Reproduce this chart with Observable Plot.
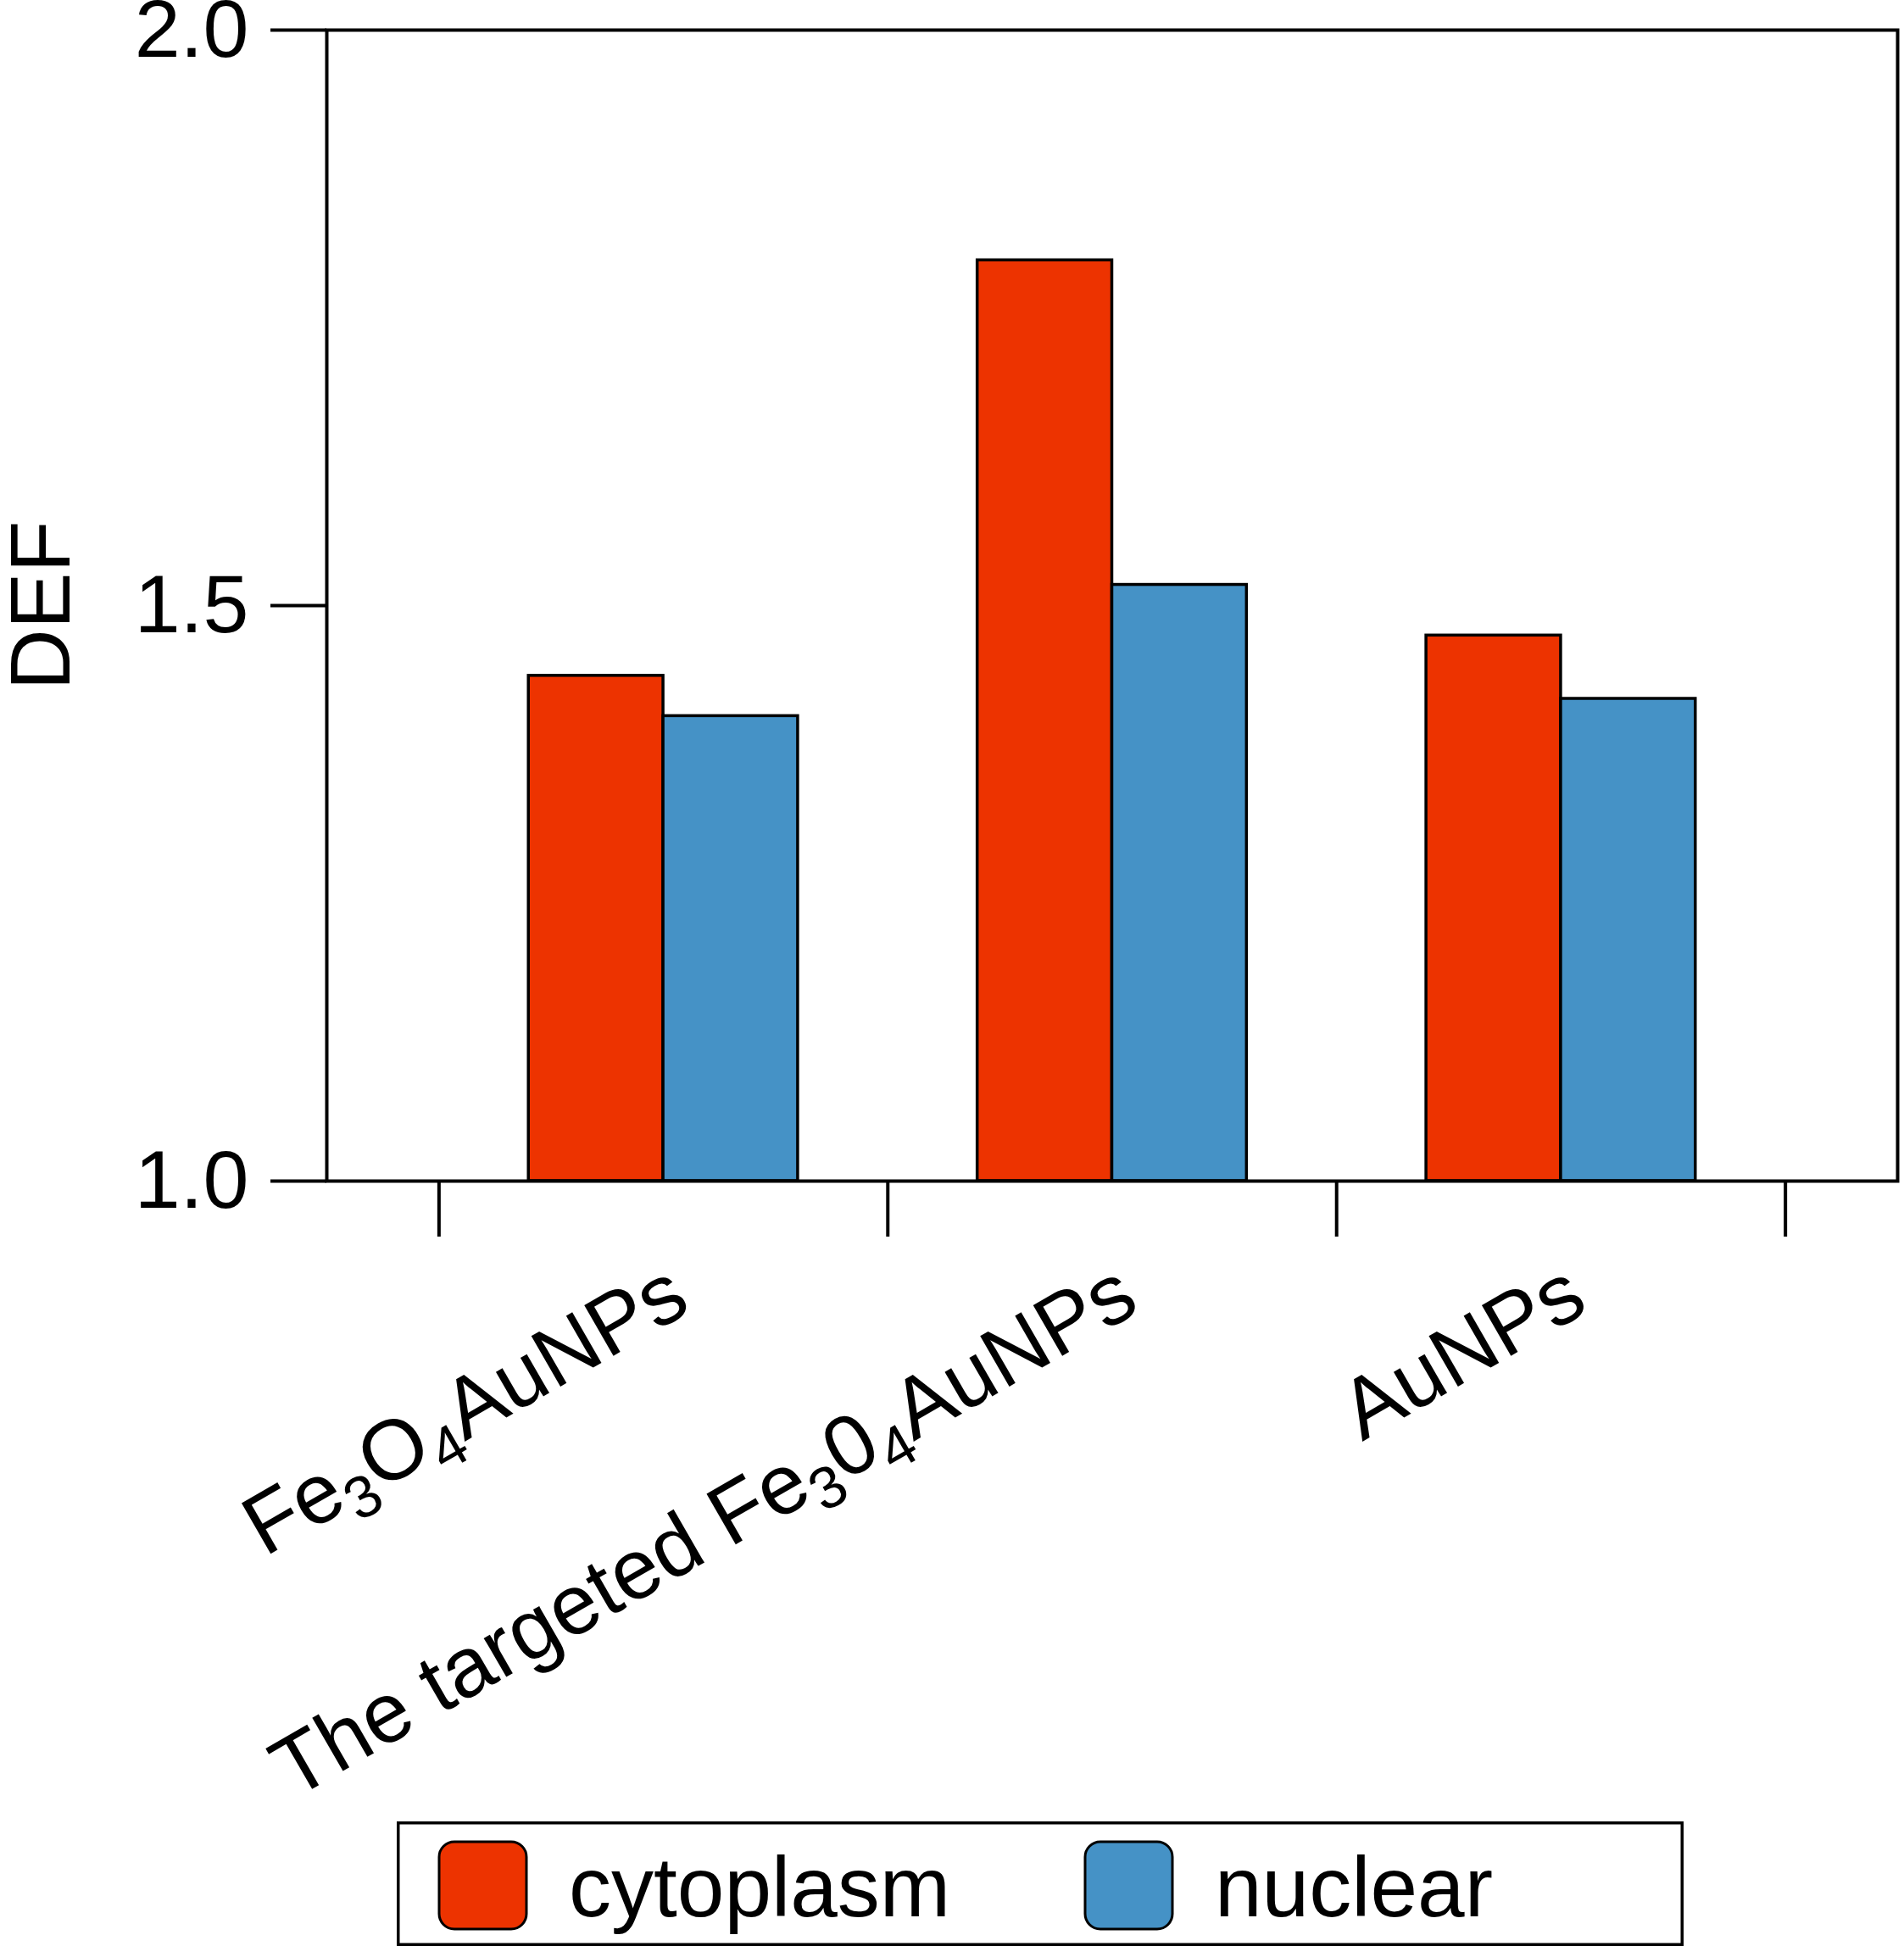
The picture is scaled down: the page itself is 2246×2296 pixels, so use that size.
<!DOCTYPE html>
<html><head><meta charset="utf-8">
<script src="https://cdn.jsdelivr.net/npm/d3@7"></script>
<script src="https://cdn.jsdelivr.net/npm/@observablehq/plot@0.6"></script>
<style>
body{margin:0;background:#fff;}
#wrap{position:relative;width:2246px;height:2296px;overflow:hidden;background:#fff;font-family:"Liberation Sans",Arial,Helvetica,sans-serif;}
#wrap svg{display:block;}
#legend{position:absolute;left:468px;top:2149px;}
</style></head>
<body><div id="wrap"></div>
<script>
// ---- data ----
const groups = ["Fe₃O₄AuNPs", "The targeted Fe₃0₄AuNPs", "AuNPs"];
const seriesNames = ["cytoplasm", "nuclear"];
const cytoplasm = [1.439, 1.80, 1.474];
const nuclear = [1.404, 1.518, 1.419];
const yTicks = [1.0, 1.5, 2.0];
const yLabel = "DEF";
const colors = ["#ED3300", "#4592C6"];

// ---- table ----
const rows = [];
groups.forEach((g, i) => {
  rows.push({group: g, gi: i, series: seriesNames[0], si: 0, value: cytoplasm[i]});
  rows.push({group: g, gi: i, series: seriesNames[1], si: 1, value: nuclear[i]});
});
const barW = 0.3;
const center = i => i + 0.75;
const boundaries = d3.range(groups.length + 1).map(k => k + 0.25);
const font = '"Liberation Sans", Arial, Helvetica, sans-serif';

const hasAxisMarks = typeof Plot.axisX === "function";
const marks = [
  Plot.rect(rows, {
    x1: d => center(d.gi) + (d.si - 1) * barW,
    x2: d => center(d.gi) + d.si * barW,
    y1: () => yTicks[0],
    y2: "value",
    fill: "series",
    stroke: "black",
    strokeWidth: 3.5
  }),
  Plot.frame({stroke: "black", strokeWidth: 4}),
  Plot.text(groups, {
    x: (d, i) => center(i),
    frameAnchor: "bottom",
    text: d => d,
    rotate: -30,
    textAnchor: "end",
    lineAnchor: "bottom",
    dx: 35,
    dy: 152,
    fontSize: 100,
    fill: "black"
  }),
  Plot.text([yLabel], {
    frameAnchor: "left",
    text: d => d,
    rotate: -90,
    textAnchor: "middle",
    lineAnchor: "middle",
    dx: -336,
    fontSize: 100,
    fill: "black"
  })
];
if (hasAxisMarks) {
  marks.push(
    Plot.axisY({ticks: yTicks, tickSize: 66, tickPadding: 26, tickFormat: d3.format(".1f"), strokeWidth: 4, fontSize: 97, label: null}),
    Plot.axisX({ticks: boundaries, tickSize: 66, tickFormat: () => "", strokeWidth: 4, label: null})
  );
}

const plot = Plot.plot({
  width: 2246,
  height: 2140,
  marginLeft: 385,
  marginRight: 8,
  marginTop: 35,
  marginBottom: 747,
  style: {fontFamily: font, fontSize: "100px", background: "white", color: "black", overflow: "visible"},
  x: Object.assign({type: "linear", domain: [0, groups.length + 0.5]},
    hasAxisMarks ? {} : {ticks: boundaries, tickSize: 66, tickFormat: () => "", label: null}),
  y: Object.assign({domain: [yTicks[0], yTicks[yTicks.length - 1]]},
    hasAxisMarks ? {} : {ticks: yTicks, tickSize: 66, tickPadding: 26, tickFormat: d3.format(".1f"), label: null}),
  color: {domain: seriesNames, range: colors},
  marks
});

// subscripts: render Unicode subscript digits as smaller, lowered tspans
const ns = "http://www.w3.org/2000/svg";
d3.select(plot).selectAll("text").each(function () {
  const s = this.textContent;
  if (!/[\u2080-\u2089]/.test(s)) return;
  while (this.firstChild) this.removeChild(this.firstChild);
  let buf = "", shifted = false;
  const add = (txt, sub) => {
    const t = document.createElementNS(ns, "tspan");
    t.textContent = txt;
    if (sub) { t.setAttribute("font-size", "70"); t.setAttribute("dy", "20"); shifted = true; }
    else if (shifted) { t.setAttribute("dy", "-20"); shifted = false; }
    this.appendChild(t);
  };
  for (const ch of s) {
    const c = ch.codePointAt(0);
    if (c >= 0x2080 && c <= 0x2089) {
      if (buf) { add(buf, false); buf = ""; }
      add(String.fromCharCode(48 + c - 0x2080), true);
    } else buf += ch;
  }
  if (buf) add(buf, false);
});
if (!hasAxisMarks) {
  d3.select(plot).selectAll('[aria-label="x-axis"] line, [aria-label="y-axis"] line').attr("stroke-width", 4);
  d3.select(plot).selectAll('[aria-label="y-axis"] text').attr("font-size", 97);
}

const wrap = document.getElementById("wrap");
wrap.appendChild(plot);

// ---- legend (below the plot svg) ----
const lw = 1518, lh = 147;
const leg = d3.select(wrap).append("svg").attr("id", "legend")
  .attr("width", lw).attr("height", lh);
leg.append("rect").attr("x", 1.75).attr("y", 1.75).attr("width", lw - 3.5).attr("height", lh - 3.5)
  .attr("fill", "white").attr("stroke", "black").attr("stroke-width", 3.5);
const items = leg.selectAll("g.item").data(seriesNames).join("g")
  .attr("class", "item")
  .attr("transform", (d, i) => `translate(${50 + i * 762},0)`);
items.append("rect").attr("x", 0).attr("y", 24).attr("width", 103).attr("height", 103)
  .attr("rx", 18).attr("fill", (d, i) => colors[i]).attr("stroke", "black").attr("stroke-width", 3);
items.append("text").attr("x", 153).attr("y", 112).attr("font-size", 100)
  .attr("font-family", font).attr("fill", "black").text(d => d);
</script>
</body></html>
